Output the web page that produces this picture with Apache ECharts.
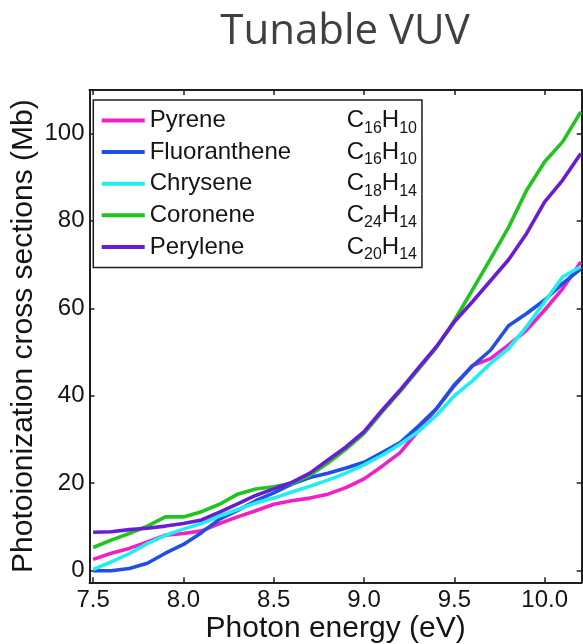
<!DOCTYPE html>
<html>
<head>
<meta charset="utf-8">
<script src="https://cdn.jsdelivr.net/npm/echarts@6/dist/echarts.min.js"></script>
<style>
  html, body { margin: 0; padding: 0; background: #fff; }
  #chart { width: 583px; height: 644px; }
</style>
</head>
<body>
<div id="chart"></div>
<script>
// Photon energies (eV), 0.1 eV steps
const energies = [7.5, 7.6, 7.7, 7.8, 7.9, 8.0, 8.1, 8.2, 8.3, 8.4, 8.5, 8.6, 8.7, 8.8,
                  8.9, 9.0, 9.1, 9.2, 9.3, 9.4, 9.5, 9.6, 9.7, 9.8, 9.9, 10.0, 10.1, 10.2];

// Photoionization cross sections (Mb)
const pyrene       = [2.6, 4.0, 5.1, 6.6, 8.1, 8.5, 9.1, 10.8, 12.3, 13.7, 15.2, 16.0, 16.6, 17.5,
                      19.0, 21.0, 23.9, 27.0, 32.0, 37.0, 42.3, 46.9, 48.5, 51.6, 55.0, 59.6, 64.5, 70.6];
const fluoranthene = [0.0, 0.0, 0.5, 1.7, 4.0, 6.0, 8.7, 11.8, 13.8, 16.0, 17.8, 19.8, 21.3, 22.3,
                      23.5, 24.8, 27.0, 29.3, 33.0, 37.0, 42.5, 46.8, 50.4, 56.0, 58.8, 61.9, 65.7, 69.0];
const chrysene     = [0.3, 2.0, 3.9, 6.2, 8.1, 9.5, 10.8, 12.5, 14.0, 15.5, 16.6, 18.0, 19.3, 20.7,
                      22.3, 24.2, 26.4, 28.9, 31.8, 35.5, 40.0, 43.4, 47.4, 50.8, 55.8, 61.5, 67.2, 69.5];
const coronene     = [5.3, 7.0, 8.5, 10.2, 12.3, 12.3, 13.5, 15.2, 17.5, 18.7, 19.2, 20.0, 21.8, 24.6,
                      27.8, 31.4, 36.3, 41.0, 46.0, 51.0, 57.2, 64.2, 71.3, 78.5, 87.0, 93.5, 98.1, 104.9];
const perylene     = [8.8, 8.9, 9.4, 9.7, 10.2, 10.8, 11.6, 13.4, 15.3, 17.2, 18.7, 20.2, 22.3, 25.3,
                      28.3, 31.8, 36.7, 41.3, 46.3, 51.2, 56.9, 61.5, 66.3, 71.1, 77.1, 84.3, 89.3, 95.4];

const seriesNames = ['Pyrene', 'Fluoranthene', 'Chrysene', 'Coronene', 'Perylene'];
const seriesValues = [pyrene, fluoranthene, chrysene, coronene, perylene];
const seriesColors = ['#f21ec8', '#1f4fe4', '#22eef0', '#1fc41f', '#6a1cd4'];

// Molecular formulas: [carbon count, hydrogen count]
const formulas = {
  Pyrene: ['16', '10'],
  Fluoranthene: ['16', '10'],
  Chrysene: ['18', '14'],
  Coronene: ['24', '14'],
  Perylene: ['20', '14']
};

const xTicks = [7.5, 8.0, 8.5, 9.0, 9.5, 10.0];
const yTicks = [0, 20, 40, 60, 80, 100];

const FONT = "'Liberation Sans', Arial, Helvetica, sans-serif";
const AXIS_COLOR = '#1e1e1e';
const X_MIN = 7.48, X_MAX = 10.205;
const Y_MIN = -2.65, Y_MAX = 109.9;

const chart = echarts.init(document.getElementById('chart'), null, { renderer: 'canvas' });

function frameX(position, withLabels) {
  return {
    type: 'value',
    position: position,
    min: X_MIN,
    max: X_MAX,
    axisLine: { show: true, onZero: false, lineStyle: { color: AXIS_COLOR, width: 2 } },
    axisTick: { show: true, inside: true, length: 5, customValues: xTicks,
                lineStyle: { color: AXIS_COLOR, width: 1.5 } },
    axisLabel: withLabels ? {
      show: true, customValues: xTicks, margin: 6.5,
      fontFamily: FONT, fontSize: 24, color: '#141414',
      formatter: v => Number(v).toFixed(1)
    } : { show: false },
    splitLine: { show: false },
    name: withLabels ? 'Photon energy (eV)' : '',
    nameLocation: 'middle',
    nameGap: 31,
    nameMoveOverlap: false,
    nameTextStyle: { fontFamily: FONT, fontSize: 30, color: '#141414' }
  };
}

function frameY(position, withLabels) {
  return {
    type: 'value',
    position: position,
    min: Y_MIN,
    max: Y_MAX,
    axisLine: { show: true, onZero: false, lineStyle: { color: AXIS_COLOR, width: 2 } },
    axisTick: { show: true, inside: true, length: 5, customValues: yTicks,
                lineStyle: { color: AXIS_COLOR, width: 1.5 } },
    axisLabel: withLabels ? {
      show: true, customValues: yTicks, margin: 5,
      fontFamily: FONT, fontSize: 24, color: '#141414'
    } : { show: false },
    splitLine: { show: false },
    name: withLabels ? 'Photoionization cross sections (Mb)' : '',
    nameLocation: 'middle',
    nameGap: 51,
    nameMoveOverlap: false,
    nameTextStyle: { fontFamily: FONT, fontSize: 30, color: '#141414' }
  };
}

const option = {
  backgroundColor: '#ffffff',
  animation: false,
  title: {
    text: 'Tunable VUV',
    left: 340,
    top: 6,
    textAlign: 'center',
    textStyle: { fontFamily: "'Open Sans', sans-serif", fontSize: 42, fontWeight: 'normal', color: '#404040' }
  },
  grid: { left: 89.5, right: 1.3, top: 90, bottom: 61.7, containLabel: false, outerBoundsMode: 'none' },
  xAxis: [frameX('bottom', true), frameX('top', false)],
  yAxis: [frameY('left', true), frameY('right', false)],
  legend: {
    orient: 'vertical',
    left: 93.3,
    top: 100,
    padding: [8.5, 5, 5, 8.4],
    itemGap: 3.9,
    itemWidth: 43,
    itemHeight: 4,
    itemTextGap: 5,
    icon: 'rect',
    selectedMode: false,
    backgroundColor: '#ffffff',
    borderColor: '#1e1e1e',
    borderWidth: 1.5,
    borderRadius: 0,
    data: seriesNames,
    formatter: name => {
      const f = formulas[name];
      return `{n|${name}}{c|C}{s|${f[0]}}{c|H}{s|${f[1]}}`;
    },
    textStyle: {
      fontFamily: FONT, fontSize: 24, color: '#141414',
      rich: {
        n: { fontFamily: FONT, fontSize: 24, lineHeight: 31.4, width: 197, color: '#141414' },
        c: { fontFamily: FONT, fontSize: 24, lineHeight: 31.4, color: '#141414' },
        s: { fontFamily: FONT, fontSize: 16, lineHeight: 18, verticalAlign: 'bottom', color: '#141414' }
      }
    }
  },
  series: seriesNames.map((name, i) => ({
    name: name,
    type: 'line',
    xAxisIndex: 0,
    yAxisIndex: 0,
    data: energies.map((e, j) => [e, seriesValues[i][j]]),
    showSymbol: false,
    symbol: 'none',
    smooth: false,
    color: seriesColors[i],
    lineStyle: { color: seriesColors[i], width: 3.6 },
    itemStyle: { color: seriesColors[i] }
  }))
};

chart.setOption(option);
</script>
</body>
</html>
